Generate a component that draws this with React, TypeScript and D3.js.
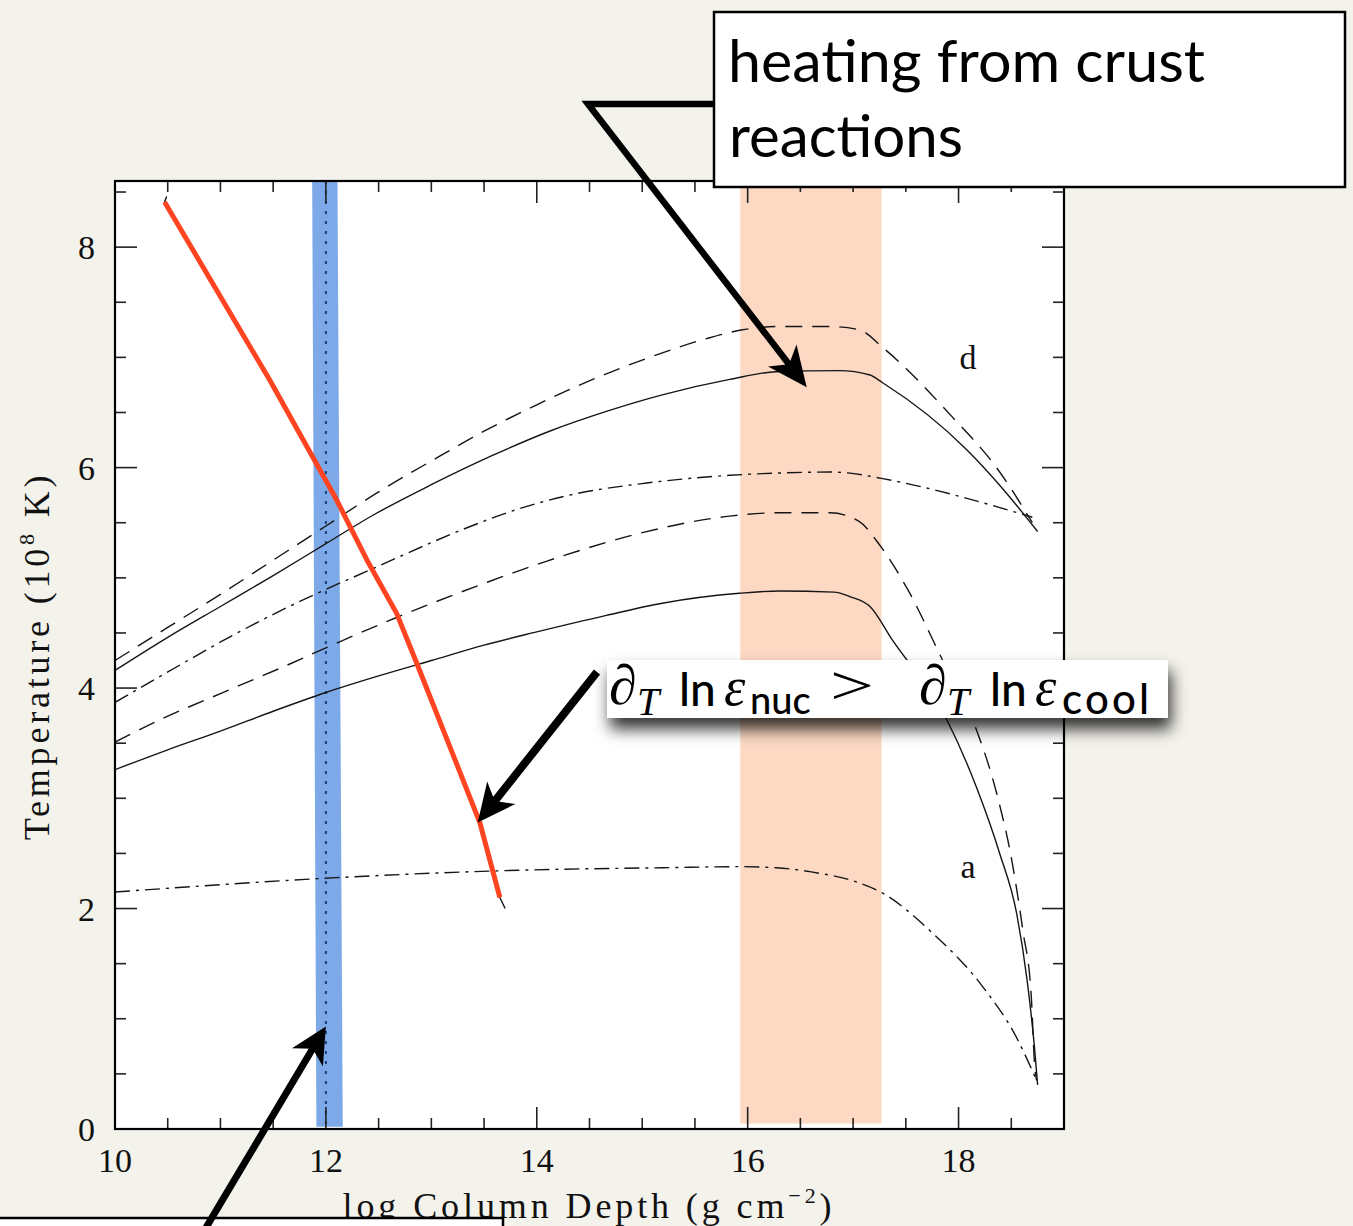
import React from 'react';
import * as d3 from 'd3';

// ---- data (log column depth, temperature in 1e8 K) ----
const xDomain: [number, number] = [10, 19];
const yDomain: [number, number] = [0, 8.6];
const xMajorTicks = [10, 12, 14, 16, 18];
const yMajorTicks = [0, 2, 4, 6, 8];

type P = [number, number];

const curveDDashed: P[] = [
  [10.0, 4.25], [10.5, 4.55], [11.0, 4.85], [11.5, 5.16], [12.0, 5.47], [12.5, 5.78],
  [13.0, 6.06], [13.5, 6.33], [14.0, 6.57], [14.53, 6.8], [15.07, 7.0], [15.61, 7.17],
  [15.95, 7.25], [16.27, 7.28], [16.78, 7.28], [17.06, 7.25], [17.28, 7.09], [17.94, 6.46],
  [18.36, 6.0], [18.7, 5.5],
];
const curveDSolid: P[] = [
  [10.0, 4.16], [10.5, 4.46], [11.0, 4.74], [11.5, 5.02], [12.0, 5.31], [12.45, 5.57],
  [12.99, 5.84], [13.58, 6.11], [14.12, 6.33], [14.66, 6.51], [15.19, 6.66], [15.83, 6.8],
  [16.27, 6.87], [16.87, 6.88], [17.16, 6.84], [17.28, 6.77], [18.08, 6.16],
  [18.39, 5.84], [18.75, 5.42],
];
const curveDDashDot: P[] = [
  [10.0, 3.87], [10.49, 4.14], [11.12, 4.48], [11.63, 4.73], [12.01, 4.9], [12.39, 5.06],
  [12.67, 5.18], [13.3, 5.44], [13.81, 5.62], [14.31, 5.75], [15.04, 5.86], [15.83, 5.93],
  [16.27, 5.95], [16.78, 5.96], [16.97, 5.95], [17.28, 5.9], [18.63, 5.57], [18.7, 5.55],
];
const curveADashed: P[] = [
  [10.0, 3.51], [10.49, 3.74], [11.0, 3.95], [11.59, 4.19], [12.13, 4.42], [12.67, 4.64],
  [13.53, 4.96], [14.09, 5.15], [14.25, 5.2], [15.0, 5.41], [15.83, 5.56], [16.27, 5.59],
  [16.78, 5.59], [17.06, 5.51], [17.25, 5.3], [17.52, 4.89], [17.85, 4.25], [18.17, 3.62],
  [18.36, 3.05], [18.51, 2.41], [18.61, 1.8], [18.69, 1.2], [18.72, 0.6], [18.74, 0.44],
];
const curveASolid: P[] = [
  [10.0, 3.26], [10.5, 3.44], [11.0, 3.61], [11.5, 3.79], [12.0, 3.96], [12.5, 4.11],
  [13.0, 4.25], [13.5, 4.39], [14.0, 4.51], [14.66, 4.66], [15.19, 4.77], [15.92, 4.86],
  [16.3, 4.88], [16.82, 4.87], [16.97, 4.83], [17.16, 4.74], [17.37, 4.44], [17.89, 3.71],
  [18.17, 3.1], [18.39, 2.5], [18.55, 1.96], [18.65, 1.35], [18.72, 0.74], [18.75, 0.4],
];
const curveADashDot: P[] = [
  [10.0, 2.15], [12.1, 2.28], [12.99, 2.32], [13.93, 2.35], [15.19, 2.37], [15.92, 2.38],
  [16.27, 2.37], [16.68, 2.32], [16.97, 2.26], [17.28, 2.14], [17.75, 1.78], [18.23, 1.29],
  [18.55, 0.83], [18.74, 0.44],
];
// ignition curve
const ignitionCurve: P[] = [
  [10.47, 8.41], [11.47, 6.79], [12.1, 5.71], [12.39, 5.16], [12.67, 4.68], [12.86, 4.23],
  [13.15, 3.53], [13.46, 2.78], [13.65, 2.1],
];
const ignitionStart: P = [10.49, 8.46];
const ignitionEnd: P = [13.7, 2.0];

// shaded regions
const blueBand: P[] = [[11.87, 8.6], [12.11, 8.6], [12.16, 0.02], [11.91, 0.02]];
const crustBand = { x0: 15.93, x1: 17.27, y0: 0.05, y1: 8.6 };
const dotLineX = 12;

// annotation targets
const crustArrowTip: P = [16.56, 6.73];
const ignitionArrowTip: P = [13.44, 2.78];
const depthArrowTip: P = [12.0, 0.93];

const W = 1353;
const H = 1226;
const margin = { left: 115, right: 1064, top: 181, bottom: 1129 };

const BG = '#f3f2eb';
const serif = '"Liberation Serif", "Times New Roman", serif';
const sans = 'Lato, "Open Sans", sans-serif';

function arrow(x0: number, y0: number, x1: number, y1: number, len: number, half: number) {
  const dx = x1 - x0;
  const dy = y1 - y0;
  const L = Math.hypot(dx, dy);
  const ux = dx / L;
  const uy = dy / L;
  const bx = x1 - ux * len;
  const by = y1 - uy * len;
  const nx = -uy;
  const ny = ux;
  const mx = x1 - ux * len * 0.72;
  const my = y1 - uy * len * 0.72;
  const head = `M${x1},${y1}L${bx + nx * half},${by + ny * half}L${mx},${my}L${bx - nx * half},${by - ny * half}Z`;
  return { head, end: [x1 - ux * len * 0.6, y1 - uy * len * 0.6] as P };
}

export default function App() {
  const x = d3.scaleLinear().domain(xDomain).range([margin.left, margin.right]);
  const y = d3.scaleLinear().domain(yDomain).range([margin.bottom, margin.top]);

  const smooth = d3
    .line<P>()
    .x((d) => x(d[0]))
    .y((d) => y(d[1]))
    .curve(d3.curveMonotoneX);
  const straight = d3
    .line<P>()
    .x((d) => x(d[0]))
    .y((d) => y(d[1]));

  const xMinor = d3.range(10, 19.001, 0.5);
  const yMinor = d3.range(0, 8.6, 0.5);
  const isMajorX = (v: number) => xMajorTicks.includes(v);
  const isMajorY = (v: number) => yMajorTicks.includes(v);

  const dashed = '17 10';
  const dashDot = '15 6 3 6';
  const lineColor = '#151515';

  // arrows
  const crustCorner: P = [588, 104];
  const crustTip: P = [x(crustArrowTip[0]), y(crustArrowTip[1])];
  const a1 = arrow(crustCorner[0], crustCorner[1], crustTip[0], crustTip[1], 40, 18);

  const ignStart: P = [597, 672];
  const ignTip: P = [x(ignitionArrowTip[0]), y(ignitionArrowTip[1])];
  const a2 = arrow(ignStart[0], ignStart[1], ignTip[0], ignTip[1], 38, 18);

  const depStart: P = [201, 1236];
  const depTip: P = [x(depthArrowTip[0]), y(depthArrowTip[1])];
  const a3 = arrow(depStart[0], depStart[1], depTip[0], depTip[1], 36, 18);

  return (
    <svg
      width={W}
      height={H}
      viewBox={`0 0 ${W} ${H}`}
      style={{ position: 'absolute', left: 0, top: 0, display: 'block' }}
    >
      <defs>
        <filter id="boxShadow" x="-10%" y="-40%" width="125%" height="230%">
          <feDropShadow dx="3" dy="11" stdDeviation="8" floodColor="#000" floodOpacity="0.8" />
        </filter>
        <clipPath id="plotClip">
          <rect x={margin.left} y={margin.top} width={margin.right - margin.left} height={margin.bottom - margin.top} />
        </clipPath>
      </defs>

      <rect x={0} y={0} width={W} height={H} fill={BG} />
      <rect
        x={margin.left}
        y={margin.top}
        width={margin.right - margin.left}
        height={margin.bottom - margin.top}
        fill="#ffffff"
      />

      {/* shaded regions */}
      <rect
        x={x(crustBand.x0)}
        y={y(crustBand.y1)}
        width={x(crustBand.x1) - x(crustBand.x0)}
        height={y(crustBand.y0) - y(crustBand.y1)}
        fill="#fdd8c3"
      />
      <polygon points={blueBand.map((d) => `${x(d[0])},${y(d[1])}`).join(' ')} fill="#7da9e8" />
      <line
        x1={x(dotLineX)}
        x2={x(dotLineX)}
        y1={y(yDomain[1])}
        y2={y(0)}
        stroke="#1f3f78"
        strokeWidth={2}
        strokeDasharray="3 7"
      />

      {/* temperature profiles */}
      <g clipPath="url(#plotClip)" fill="none" stroke={lineColor} strokeWidth={1.4}>
        <path d={smooth(curveDDashed) || ''} strokeDasharray={dashed} />
        <path d={smooth(curveDSolid) || ''} />
        <path d={smooth(curveDDashDot) || ''} strokeDasharray={dashDot} />
        <path d={smooth(curveADashed) || ''} strokeDasharray={dashed} />
        <path d={smooth(curveASolid) || ''} />
        <path d={smooth(curveADashDot) || ''} strokeDasharray={dashDot} />
        <path d={straight([ignitionStart, ...ignitionCurve, ignitionEnd]) || ''} strokeWidth={1.4} />
      </g>
      <path
        d={straight(ignitionCurve) || ''}
        fill="none"
        stroke="#ff4422"
        strokeWidth={5}
        strokeLinejoin="round"
      />

      {/* frame and ticks */}
      <g stroke="#222" strokeWidth={1.6}>
        {xMinor.map((v) => {
          const L = isMajorX(v) ? 22 : 11;
          return (
            <g key={`xt${v}`}>
              <line x1={x(v)} x2={x(v)} y1={margin.bottom} y2={margin.bottom - L} />
              <line x1={x(v)} x2={x(v)} y1={margin.top} y2={margin.top + L} />
            </g>
          );
        })}
        {yMinor.map((v) => {
          const L = isMajorY(v) ? 22 : 11;
          return (
            <g key={`yt${v}`}>
              <line x1={margin.left} x2={margin.left + L} y1={y(v)} y2={y(v)} />
              <line x1={margin.right} x2={margin.right - L} y1={y(v)} y2={y(v)} />
            </g>
          );
        })}
      </g>
      <rect
        x={margin.left}
        y={margin.top}
        width={margin.right - margin.left}
        height={margin.bottom - margin.top}
        fill="none"
        stroke="#000"
        strokeWidth={2.2}
      />

      {/* tick labels */}
      <g fontFamily={serif} fontSize={34} fill="#111">
        {xMajorTicks.map((v) => (
          <text key={`xl${v}`} x={x(v)} y={1172} textAnchor="middle">
            {v}
          </text>
        ))}
        {yMajorTicks.map((v) => (
          <text key={`yl${v}`} x={95} y={y(v) + 12} textAnchor="end">
            {v}
          </text>
        ))}
      </g>

      {/* axis titles */}
      <text x={589} y={1218} textAnchor="middle" fontFamily={serif} fontSize={36} letterSpacing={3.9} fill="#111">
        log Column Depth (g cm
        <tspan fontSize={22} dy={-15}>
          −2
        </tspan>
        <tspan dy={15}>)</tspan>
      </text>
      <text
        transform="translate(49,656) rotate(-90)"
        textAnchor="middle"
        fontFamily={serif}
        fontSize={36}
        letterSpacing={3.8}
        fill="#111"
      >
        Temperature (10
        <tspan fontSize={22} dy={-15}>
          8
        </tspan>
        <tspan dy={15}> K)</tspan>
      </text>

      {/* curve labels */}
      <text x={968} y={369} textAnchor="middle" fontFamily={serif} fontSize={34} fill="#111">
        d
      </text>
      <text x={968} y={878} textAnchor="middle" fontFamily={serif} fontSize={34} fill="#111">
        a
      </text>

      {/* crust-heating callout */}
      <rect x={714} y={12} width={631} height={175} fill="#fff" stroke="#000" strokeWidth={2.5} />
      <text x={728} y={82} fontFamily={sans} fontSize={58} fill="#000" textLength={477} lengthAdjust="spacingAndGlyphs">
        heating from crust
      </text>
      <text x={729} y={157} fontFamily={sans} fontSize={58} fill="#000" textLength={234} lengthAdjust="spacingAndGlyphs">
        reactions
      </text>
      <polyline
        points={`714,${crustCorner[1]} ${crustCorner[0]},${crustCorner[1]} ${a1.end[0]},${a1.end[1]}`}
        fill="none"
        stroke="#000"
        strokeWidth={6.5}
        strokeLinejoin="miter"
      />
      <path d={a1.head} fill="#000" />

      {/* ignition criterion callout */}
      <rect x={607} y={660} width={561} height={58} fill="#fff" filter="url(#boxShadow)" />
      <g fill="#000">
        <text x={609} y={704} fontFamily={serif} fontStyle="italic" fontSize={56}>∂</text>
        <text x={637} y={715} fontFamily={serif} fontStyle="italic" fontSize={40}>T</text>
        <text x={679} y={706} fontFamily={sans} fontWeight={500} fontSize={46}>ln</text>
        <text x={724} y={705} fontFamily={serif} fontStyle="italic" fontSize={54}>ε</text>
        <text x={750} y={714} fontFamily={sans} fontWeight={500} fontSize={38}>nuc</text>
        <text x={830} y={704} fontFamily={serif} fontSize={54} textLength={44} lengthAdjust="spacingAndGlyphs">&gt;</text>
        <text x={919} y={704} fontFamily={serif} fontStyle="italic" fontSize={56}>∂</text>
        <text x={947} y={715} fontFamily={serif} fontStyle="italic" fontSize={40}>T</text>
        <text x={990} y={706} fontFamily={sans} fontWeight={500} fontSize={46}>ln</text>
        <text x={1035} y={705} fontFamily={serif} fontStyle="italic" fontSize={54}>ε</text>
        <text x={1062} y={714} fontFamily={sans} fontWeight={500} fontSize={42} letterSpacing={3.2}>cool</text>
      </g>
      <line x1={ignStart[0]} y1={ignStart[1]} x2={a2.end[0]} y2={a2.end[1]} stroke="#000" strokeWidth={8} />
      <path d={a2.head} fill="#000" />

      {/* column-depth callout */}
      <rect x={0} y={1218} width={503} height={20} fill="#fff" />
      <path d="M0,1218 H503 V1240" fill="none" stroke="#000" strokeWidth={2.5} />
      <line x1={depStart[0]} y1={depStart[1]} x2={a3.end[0]} y2={a3.end[1]} stroke="#000" strokeWidth={7} />
      <path d={a3.head} fill="#000" />
    </svg>
  );
}
